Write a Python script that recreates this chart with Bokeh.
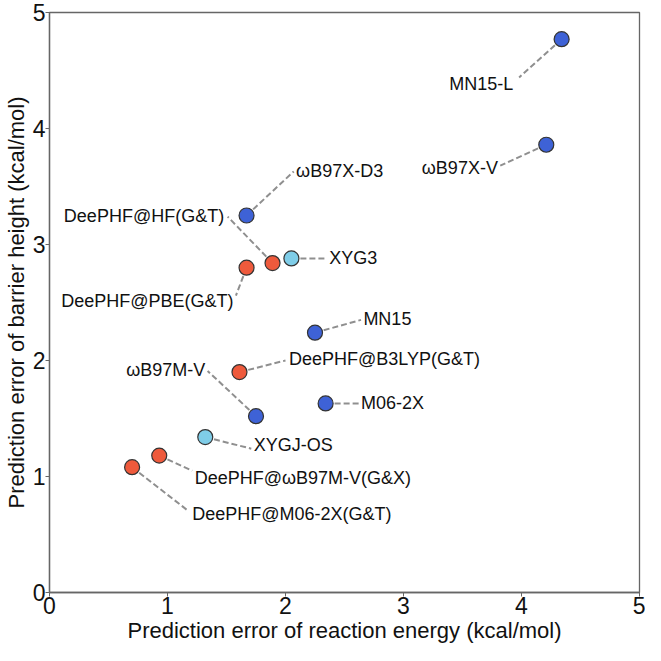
from bokeh.plotting import figure
from bokeh.models import ColumnDataSource, FixedTicker
from bokeh.core.properties import value
from bokeh.embed import file_html
from bokeh.resources import INLINE

# ---- data ----
names = ["MN15-L", "ωB97X-V", "ωB97X-D3", "DeePHF@HF(G&T)", "XYG3",
         "DeePHF@PBE(G&T)", "MN15", "DeePHF@B3LYP(G&T)", "M06-2X",
         "ωB97M-V", "XYGJ-OS", "DeePHF@ωB97M-V(G&X)", "DeePHF@M06-2X(G&T)"]
reaction_err = [4.34, 4.21, 1.67, 1.89, 2.05, 1.67, 2.25, 1.61, 2.34, 1.75, 1.32, 0.93, 0.70]
barrier_err = [4.77, 3.86, 3.25, 2.84, 2.88, 2.80, 2.24, 1.90, 1.63, 1.52, 1.34, 1.18, 1.08]
group = ["other", "other", "other", "DeePHF", "XYG", "DeePHF", "other", "DeePHF",
         "other", "other", "XYG", "DeePHF", "DeePHF"]
tick_values = [0, 1, 2, 3, 4, 5]

# ---- label placement (annotation layout) ----
label_x = [3.93, 3.80, 2.09, 1.48, 2.37, 1.56, 2.66, 2.03, 2.64, 1.32, 1.73, 1.23, 1.21]
label_y = [4.38, 3.66, 3.63, 3.25, 2.88, 2.51, 2.36, 2.01, 1.63, 1.92, 1.27, 0.99, 0.68]
label_align = ["right", "right", "left", "right", "left", "right", "left", "left",
               "left", "right", "left", "left", "left"]
leader_x = [3.98, 3.82, 2.07, 1.51, 2.35, 1.58, 2.64, 2.00, 2.63, 1.34, 1.71, 1.21, 1.18]
leader_y = [4.44, 3.68, 3.63, 3.24, 2.88, 2.56, 2.35, 2.00, 1.63, 1.91, 1.24, 1.05, 0.70]

palette = {"other": "#3E62D6", "DeePHF": "#EE5A3C", "XYG": "#7FCDE8"}
colors = [palette[g] for g in group]

src = ColumnDataSource(dict(x=reaction_err, y=barrier_err, name=names, color=colors,
                            lx=label_x, ly=label_y, align=label_align,
                            ex=leader_x, ey=leader_y))

FONT = "Liberation Sans"

p = figure(width=645, height=645, output_backend="svg", toolbar_location=None,
           x_range=(0, 5), y_range=(0, 5),
           min_border_left=4, min_border_right=6, min_border_top=12, min_border_bottom=4)

p.segment(x0="x", y0="y", x1="ex", y1="ey", source=src, line_color="#8f8f8f",
          line_width=2, line_dash="6 3")
p.scatter(x="x", y="y", source=src, size=15, fill_color="color",
          line_color="#333333", line_width=1.2)
p.text(x="lx", y="ly", text="name", source=src, text_align="align",
       text_baseline="middle", text_font=value(FONT), text_font_size="18px",
       text_color="#111111")

p.xgrid.visible = False
p.ygrid.visible = False
p.outline_line_color = "#666666"
p.outline_line_width = 1.3

for ax in (p.xaxis[0], p.yaxis[0]):
    ax.ticker = FixedTicker(ticks=tick_values)
    ax.minor_tick_line_color = None
    ax.major_tick_out = 4
    ax.major_tick_in = 0
    ax.axis_line_color = "#666666"
    ax.axis_line_width = 1.3
    ax.major_tick_line_color = "#666666"
    ax.major_label_text_font = FONT
    ax.major_label_text_font_size = "23px"
    ax.major_label_text_color = "#111111"
    ax.axis_label_text_font = FONT
    ax.axis_label_text_font_size = "22px"
    ax.axis_label_text_font_style = "normal"
    ax.axis_label_text_color = "#111111"
    ax.major_label_standoff = 0
    ax.axis_label_standoff = 1

p.xaxis.axis_label = "Prediction error of reaction energy (kcal/mol)"
p.yaxis.axis_label = "Prediction error of barrier height (kcal/mol)"

open("out.html", "w").write(file_html(p, INLINE))
